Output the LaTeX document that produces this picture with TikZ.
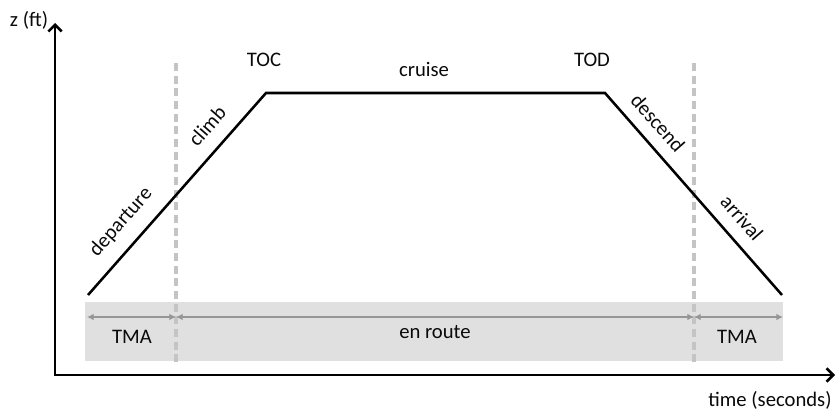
\documentclass[tikz,border=0pt]{standalone}
\usepackage{fontspec}
\setmainfont{Carlito}
\usetikzlibrary{arrows.meta}

\definecolor{bandgray}{RGB}{224,224,224}
\definecolor{dashgray}{RGB}{196,196,196}
\definecolor{spangray}{RGB}{150,150,150}
\definecolor{inkblack}{RGB}{10,10,10}

\tikzset{
  lbl/.style={inner sep=0.75pt, text=inkblack, font=\fontsize{15.5}{18}\selectfont},
  axis/.style={line width=1.9pt, {Straight Barb[length=5pt,width=10pt]}-{Straight Barb[length=5pt,width=10pt]}},
  profile/.style={line width=1.9pt, line join=miter},
  boundary/.style={draw=dashgray, line width=2.6pt, dash pattern=on 6pt off 3.5pt},
  span/.style={draw=spangray, line width=0.9pt, {Latex[length=5pt,width=5pt]}-{Latex[length=5pt,width=5pt]}},
}

\begin{document}
\begin{tikzpicture}[x=0.75pt,y=0.75pt,yscale=-1,xscale=1]
\useasboundingbox (0,0) rectangle (838,414);

%Band: airspace sectors
\fill [bandgray] (85,302) rectangle (783,361);

%Axes
\coordinate (orig) at (55,375);
\coordinate (ztop) at (55,23);
\coordinate (tend) at (835,375);
\draw [axis] (ztop) -- (orig) -- (tend);

%Sector boundaries
\coordinate (bndAtop) at (176,63);
\coordinate (bndAbot) at (176,366);
\coordinate (bndBtop) at (694,63);
\coordinate (bndBbot) at (694,366);
\draw [boundary] (bndAtop) -- (bndAbot);
\draw [boundary] (bndBtop) -- (bndBbot);

%Spans
\coordinate (spanA) at (87,317);
\coordinate (spanB) at (176,317);
\coordinate (spanC) at (694,317);
\coordinate (spanD) at (783,317);
\draw [span] (spanA) -- (spanB);
\draw [span] (spanB) -- (spanC);
\draw [span] (spanC) -- (spanD);

%Flight profile
\coordinate (dep) at (88,295);
\coordinate (toc) at (266,93);
\coordinate (tod) at (605,93);
\coordinate (arr) at (782,295);
\draw [profile] (dep) -- (toc) -- (tod) -- (arr);

% Text Node
\node [lbl] (zlab) at (29,20) {z (ft)};
% Text Node
\node [lbl] (tlab) at (770,400) {time (seconds)};
% Text Node
\node [lbl] (toclab) at (264,60) {TOC};
% Text Node
\node [lbl] (todlab) at (592,60) {TOD};
% Text Node
\node [lbl] (cruiselab) at (424,69) {cruise};
% Text Node
\node [lbl, rotate=48.6] (deplab) at (121,222) {departure};
% Text Node
\node [lbl, rotate=48.6] (climblab) at (207,126) {climb};
% Text Node
\node [lbl, rotate=-48.6] (desclab) at (658,123) {descend};
% Text Node
\node [lbl, rotate=-48.6] (arrlab) at (742,218) {arrival};
% Text Node
\node [lbl] (tmaA) at (132,337) {TMA};
% Text Node
\node [lbl] (enroute) at (435,332) {en route};
% Text Node
\node [lbl] (tmaB) at (737,337) {TMA};

\end{tikzpicture}
\end{document}
